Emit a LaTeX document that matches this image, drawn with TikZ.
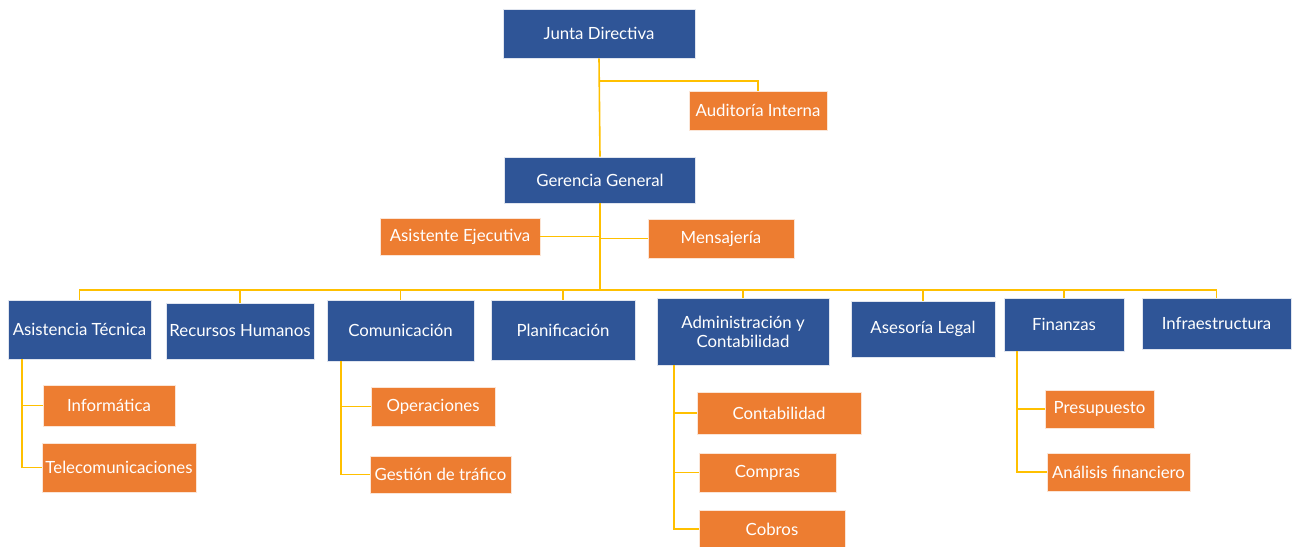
\documentclass[tikz,border=0pt]{standalone}
\usepackage{fontspec}
\setmainfont{Lato}
\usepackage{tikz}
\usetikzlibrary{positioning,calc}
\definecolor{azul}{HTML}{2F5597}
\definecolor{naranja}{HTML}{ED7D31}
\definecolor{amarillo}{HTML}{FFC000}
\tikzset{
  caja/.style={draw=white!85!azul,line width=0.6pt,text=white,inner sep=0pt,
               align=center,font=\fontsize{16.8}{19}\selectfont},
  jefe/.style={caja,fill=azul},
  unidad/.style={caja,fill=naranja,draw=white!80!naranja},
  linea/.style={amarillo,line width=1.6pt},
}
\begin{document}
\begin{tikzpicture}[x=1pt,y=-1pt]
\useasboundingbox (0,0) rectangle (1295,546);
% Top of the chart
\node[jefe,minimum width=192,minimum height=49] (junta) at (599,33.5) {Junta Directiva};
\node[unidad,minimum width=138,minimum height=39] (auditoria) at (758,110.5) {Auditoría Interna};
\node[jefe,minimum width=191,minimum height=46] (gerencia) at (600,180) {Gerencia General};
\node[unidad,minimum width=160,minimum height=37] (asistente) at (460,236.5) {Asistente Ejecutiva};
\node[unidad,minimum width=146,minimum height=39] (mensajeria) at (721,238.5) {Mensajería};
% Areas
\node[jefe,minimum width=143,minimum height=59] (tecnica) at (79.5,329.5) {Asistencia Técnica};
\node[jefe,minimum width=148,minimum height=56] (rrhh) at (240,331) {Recursos Humanos};
\node[jefe,minimum width=147,minimum height=61] (comunicacion) at (400.5,330.5) {Comunicación};
\node[jefe,minimum width=144,minimum height=60] (planificacion) at (563,330) {Planificación};
\node[jefe,minimum width=172,minimum height=67] (admin) at (743,331.5) {Administración y\\Contabilidad};
\node[jefe,minimum width=144,minimum height=56] (legal) at (923,329) {Asesoría Legal};
\node[jefe,minimum width=120,minimum height=53] (finanzas) at (1064,324.5) {Finanzas};
\node[jefe,minimum width=149,minimum height=51] (infra) at (1216.5,323.5) {Infraestructura};
% Units
\node[unidad,minimum width=132,minimum height=41] (informatica) at (109,405.5) {Informática};
\node[unidad,minimum width=154,minimum height=49] (telecom) at (119,467.5) {Telecomunicaciones};
\node[unidad,minimum width=124,minimum height=39] (operaciones) at (433,406.5) {Operaciones};
\node[unidad,minimum width=141,minimum height=37] (trafico) at (440.5,474.5) {Gestión de tráfico};
\node[unidad,minimum width=164,minimum height=42] (contabilidad) at (779,413) {Contabilidad};
\node[unidad,minimum width=137,minimum height=39] (compras) at (767.5,472.5) {Compras};
\node[unidad,minimum width=146,minimum height=38] (cobros) at (772,529) {Cobros};
\node[unidad,minimum width=109,minimum height=38] (presupuesto) at (1099.5,409) {Presupuesto};
\node[unidad,minimum width=143,minimum height=38] (analisis) at (1118.5,472) {Análisis financiero};
% Branch points
\coordinate (aud) at (599,81);
\coordinate (bus) at (600,290);
\coordinate (tec) at (22,359);
\coordinate (com) at (341,361);
\coordinate (adm) at (674,365);
\coordinate (fin) at (1017,351);
% Connectors
\draw[linea] (junta.south) -- (gerencia.north);
\draw[linea] (aud) -| (auditoria.north);
\draw[linea] (gerencia.south) -- (bus);
\draw[linea] (asistente.east) -- (asistente.east -| gerencia.south);
\draw[linea] (mensajeria.west) -- (mensajeria.west -| gerencia.south);
\foreach \area in {tecnica,rrhh,comunicacion,planificacion,admin,legal,finanzas,infra}
  \draw[linea] (bus) -| (\area.north);
\foreach \u in {informatica,telecom} \draw[linea] (tec) |- (\u.west);
\foreach \u in {operaciones,trafico} \draw[linea] (com) |- (\u.west);
\foreach \u in {contabilidad,compras,cobros} \draw[linea] (adm) |- (\u.west);
\foreach \u in {presupuesto,analisis} \draw[linea] (fin) |- (\u.west);
\end{tikzpicture}
\end{document}
